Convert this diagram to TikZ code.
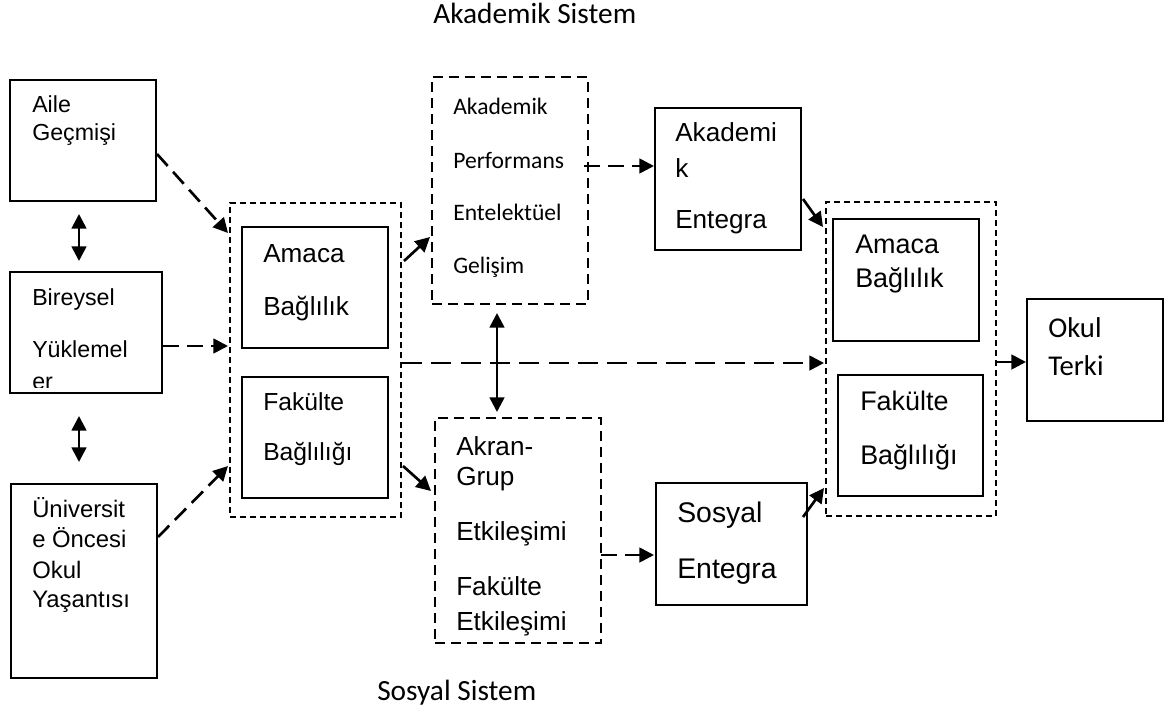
\documentclass[tikz,border=0pt]{standalone}
\usepackage{fontspec}
\setmainfont{Liberation Sans}
\newfontfamily\calfont{Carlito}
\usetikzlibrary{arrows.meta,fit,calc}
\newcommand\fsz[1]{\fontsize{#1pt}{#1pt}\selectfont}
\tikzset{
  box/.style={draw, line width=1.5pt, inner sep=0pt},
  groupbox/.style={draw, line width=1.5pt, inner sep=0pt, dash pattern=on 4.5pt off 3pt},
  listbox/.style={draw, line width=1.5pt, inner sep=0pt, dash pattern=on 7.5pt off 4.5pt},
  txt/.style={anchor=base west, inner sep=0pt},
  tip/.style={-{Triangle[length=11pt,width=11pt]}},
  link/.style={line width=2pt, tip},
  dlink/.style={line width=2pt, tip, dash pattern=on 12pt off 6pt},
  longlink/.style={line width=2pt, tip, dash pattern=on 15pt off 7pt},
  both/.style={line width=2pt, {Triangle[length=11pt,width=11pt]}-{Triangle[length=11pt,width=11pt]}}
}
\begin{document}
\begin{tikzpicture}[x=0.75pt, y=-0.75pt]
\useasboundingbox (0,0) rectangle (1171,710);

% titles
\node[txt] (tAS) at (433,24) {\calfont\fsz{22}Akademik Sistem};
\node[txt] (tSS) at (377,700) {\calfont\fsz{22}Sosyal Sistem};

% background factors
\node[box, fit={(10,80) (156,201)}] (aile) {};
\node[txt] (aile1) at (32,113) {\fsz{17.4}Aile};
\node[txt] (aile2) at (32,141) {\fsz{17.4}Geçmişi};

\node[box, fit={(10,272) (162,393)}] (bir) {};
\node[txt] (bir1) at (32,305) {\fsz{17.4}Bireysel};
\node[txt] (bir2) at (32,357) {\fsz{17.4}Yüklemel};
\begin{scope}
  \clip (bir.north west) rectangle ($(bir.south east)+(0,-7)$);
  \node[txt] (bir3) at (32,389) {\fsz{17.4}er};
\end{scope}

\node[box, fit={(11,484) (157,678)}] (uni) {};
\node[txt] (uni1) at (32,517) {\fsz{17.9}Üniversit};
\node[txt] (uni2) at (32,547) {\fsz{17.9}e Öncesi};
\node[txt] (uni3) at (32,578) {\fsz{17.9}Okul};
\node[txt] (uni4) at (32,607) {\fsz{17.9}Yaşantısı};

% first commitments
\node[groupbox, fit={(230,203) (401,517)}] (lc) {};
\node[box, fit={(242,227) (388,348)}] (la) {};
\node[txt] (la1) at (263,262) {\fsz{19.6}Amaca};
\node[txt] (la2) at (263,315) {\fsz{19.6}Bağlılık};
\node[box, fit={(242,377) (388,498)}] (lf) {};
\node[txt] (lf1) at (263,410) {\fsz{18.5}Fakülte};
\node[txt] (lf2) at (263,460) {\fsz{18.5}Bağlılığı};

% academic system
\node[listbox, fit={(432,77) (588,304)}] (ap) {};
\node[txt] (ap1) at (453,114) {\calfont\fsz{17.7}Akademik};
\node[txt] (ap2) at (453,168) {\calfont\fsz{17.7}Performans};
\node[txt] (ap3) at (453,220) {\calfont\fsz{17.7}Entelektüel};
\node[txt] (ap4) at (453,273) {\calfont\fsz{17.7}Gelişim};

\node[box, fit={(655,108) (801,250)}] (ae) {};
\node[txt] (ae1) at (675,142) {\fsz{19.6}Akademi};
\node[txt] (ae2) at (675,177) {\fsz{19.6}k};
\node[txt] (ae3) at (675,228) {\fsz{19.6}Entegra};

% social system
\node[listbox, fit={(435,418) (601,643)}] (ak) {};
\node[txt] (ak1) at (456,455) {\fsz{19.6}Akran-};
\node[txt] (ak2) at (456,485) {\fsz{19.6}Grup};
\node[txt] (ak3) at (456,540) {\fsz{19.6}Etkileşimi};
\node[txt] (ak4) at (456,595) {\fsz{19.6}Fakülte};
\node[txt] (ak5) at (456,630) {\fsz{19.6}Etkileşimi};

\node[box, fit={(656,483) (807,605)}] (se) {};
\node[txt] (se1) at (677,522) {\fsz{21.3}Sosyal};
\node[txt] (se2) at (677,578) {\fsz{21.3}Entegra};

% later commitments
\node[groupbox, fit={(826,202) (996,516)}] (rc) {};
\node[box, fit={(833,219) (979,341)}] (ra) {};
\node[txt] (ra1) at (855,253) {\fsz{20.2}Amaca};
\node[txt] (ra2) at (855,287) {\fsz{20.2}Bağlılık};
\node[box, fit={(838,375) (983,496)}] (rf) {};
\node[txt] (rf1) at (860,410) {\fsz{20.2}Fakülte};
\node[txt] (rf2) at (860,464) {\fsz{20.2}Bağlılığı};

% outcome
\node[box, fit={(1027,299) (1163,421)}] (ok) {};
\node[txt] (ok1) at (1048,337) {\calfont\fsz{21.5}Okul};
\node[txt] (ok2) at (1048,375) {\calfont\fsz{21.5}Terki};

% connectors
\draw[both] ($(aile.south west)+(70,12)$) -- ($(bir.north west)+(70,-10)$);
\draw[both] ($(bir.south west)+(70,22)$) -- ($(uni.north west)+(69,-21)$);

\draw[dlink] ($(aile.north east)+(0,75)$) -- ($(lc.north west)+(-1,31)$);
\draw[dlink] ($(bir.north east)+(0,75)$) -- ($(lc.north west)+(-1,144)$);
\draw[dlink] ($(uni.north east)+(0,54)$) -- ($(lc.north west)+(-1,264)$);

\draw[link] ($(lc.north east)+(2,59)$) -- ($(ap.south west)+(-1,-68)$);
\draw[link] ($(lc.north east)+(1,264)$) -- ($(ak.north west)+(-3,74)$);

\draw[both] ($(ap.south west)+(66,8)$) -- ($(ak.north west)+(63,-5)$);

\draw[longlink] ($(lc.north east)+(0,161)$) -- ($(rc.north west)+(-1,162)$);

\draw[dlink] ($(ap.north east)+(-5,90)$) -- ($(ae.north west)+(0,59)$);
\draw[dlink] ($(ak.north east)+(-1,138)$) -- ($(se.north west)+(-1,73)$);

\draw[link] ($(ae.north east)+(1,92)$) -- ($(rc.north west)+(-2,26)$);
\draw[link] ($(se.north east)+(-5,35)$) -- ($(rc.south west)+(-1,-29)$);

\draw[link] ($(rc.north east)+(0,161)$) -- ($(ok.north west)+(0,64)$);
\end{tikzpicture}
\end{document}
